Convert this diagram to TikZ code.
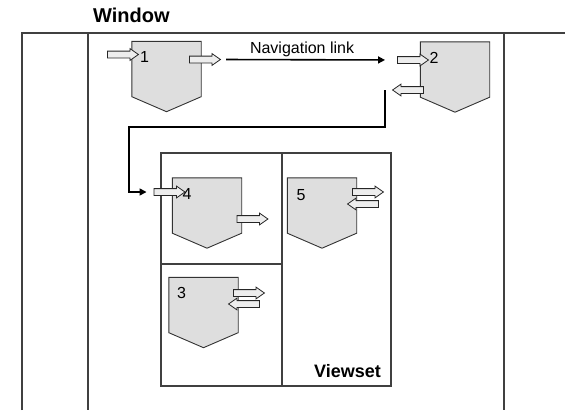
\documentclass[tikz,border=0pt]{standalone}
\usepackage{fontspec}
\setmainfont{Liberation Sans}
\usepackage{tikz}
\usetikzlibrary{shapes, arrows.meta, positioning}
\definecolor{pocketgray}{rgb}{0.870, 0.870, 0.870}
\definecolor{framegray}{rgb}{0.250, 0.250, 0.250}

\begin{document}
\begin{tikzpicture}[x=1pt, y=-1pt]
    \tikzstyle{frame} = [draw=framegray, line width=1.2pt]
    \tikzstyle{view} = [rectangle, minimum width=69pt, minimum height=55pt, inner sep=0pt]
    \tikzstyle{pocket} = [draw=black!80, fill=pocketgray, line width=0.9pt]
    \tikzstyle{port} = [single arrow, draw=black!85, fill=black!7, line width=0.8pt, inner sep=0pt, inner ysep=3pt, single arrow head extend=2.5pt, single arrow tip angle=70, minimum height=31pt]
    \tikzstyle{back} = [port, shape border rotate=180]
    \tikzstyle{num} = [inner sep=0pt, anchor=north west, font=\fontsize{16}{18}\selectfont]
    \tikzstyle{link} = [line width=1.6pt, -{Triangle[length=7pt,width=7pt]}]
    \useasboundingbox (0,0) rectangle (565,410);

    % window frame
    \node [anchor=base west, inner sep=0pt, font=\fontsize{20}{22}\selectfont\bfseries] (title) at (93,22) {Window};
    \draw [frame] (22,410) -- (22,33) -- (565,33);
    \draw [frame] (88,33) -- (88,410);
    \draw [frame] (504,33) -- (504,410);

    % viewset
    \draw [frame] (161,153) rectangle (391,386);
    \draw [frame] (282,153) -- (282,386);
    \draw [frame] (161,264) -- (282,264);
    \node [anchor=base east, inner sep=0pt, font=\fontsize{18}{20}\selectfont\bfseries] (vset) at (381,377) {Viewset};

    % views
    \node [view] (v1) at (166.5,69) {};
    \node [view] (v2) at (455,69.5) {};
    \node [view] (v4) at (207,205.5) {};
    \node [view] (v5) at (322,205.5) {};
    \node [view] (v3) at (203.5,305) {};
    \foreach \v in {v1,v2,v3,v4,v5}
        \draw [pocket] (\v.north west) -- (\v.north east) -- (\v.south east) -- ([yshift=-15pt]\v.south) -- (\v.south west) -- cycle;

    \node [num] (n1) at ([xshift=8pt, yshift=-10pt]v1.north west) {1};
    \node [num] (n2) at ([xshift=9pt, yshift=-10pt]v2.north west) {2};
    \node [num] (n4) at ([xshift=10pt, yshift=-10pt]v4.north west) {4};
    \node [num] (n5) at ([xshift=9pt, yshift=-11pt]v5.north west) {5};
    \node [num] (n3) at ([xshift=8pt, yshift=-10pt]v3.north west) {3};

    % ports
    \node [port] (in1) at (120.5,54.5) {};
    \node [port] (out1) at (202.5,59.5) {};
    \node [port] (in2) at (410.5,60) {};
    \node [back] (ret2) at (410.5,90) {};
    \node [port] (in4) at (167,192) {};
    \node [port] (out4) at (250,219) {};
    \node [port] (out5) at (365.5,192) {};
    \node [back] (ret5) at (365.5,204) {};
    \node [port] (out3) at (246.5,293) {};
    \node [back] (ret3) at (246.5,304) {};

    % navigation links
    \coordinate (bend) at (129,127);
    \draw [link, shorten <=5pt, shorten >=12pt] (out1.tip) -- node [pos=0.46, above, inner sep=2pt, font=\fontsize{16}{18}\selectfont] (navlabel) {Navigation link} (in2.tail);
    \draw [link, shorten >=7pt] ([xshift=-7pt]ret2.tip) |- (bend) |- (in4.tail);
\end{tikzpicture}
\end{document}
